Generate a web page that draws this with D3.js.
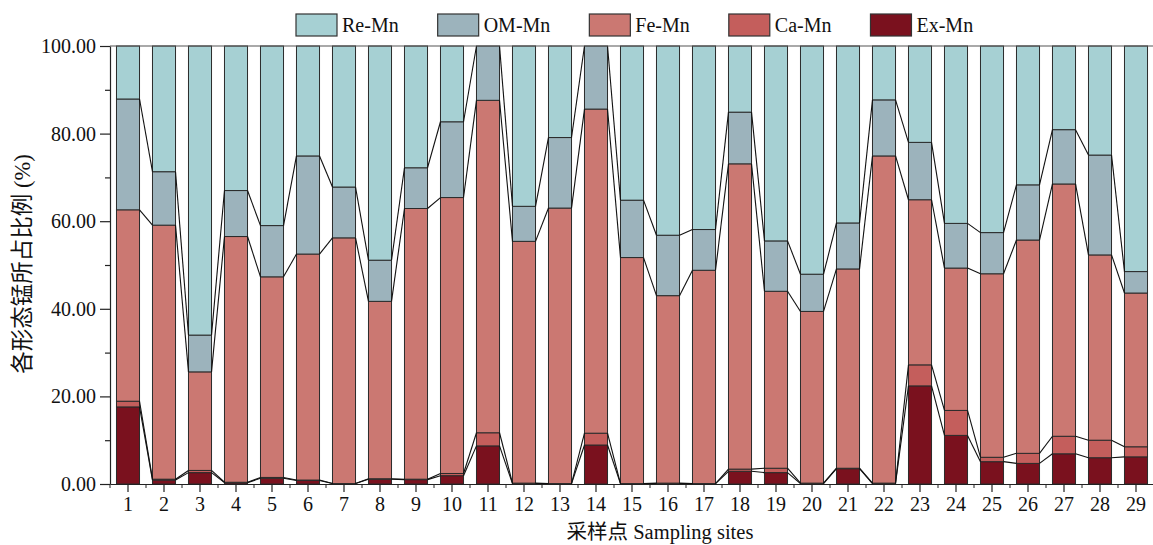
<!DOCTYPE html>
<html><head><meta charset="utf-8">
<script src="https://cdn.jsdelivr.net/npm/d3@7"></script>
<style>body{margin:0;background:#fff}svg{display:block}</style>
</head><body><svg id="c" width="1153" height="545"></svg>
<script>
const sites = ["1","2","3","4","5","6","7","8","9","10","11","12","13","14","15","16","17","18","19","20","21","22","23","24","25","26","27","28","29"];
const exMn = [17.6,0.9,2.6,0.3,1.3,0.8,0.1,1.1,1.0,1.9,8.7,0.1,0.1,8.9,0.1,0.1,0.1,2.9,2.6,0.1,3.5,0.1,22.4,11.1,5.1,4.7,6.9,6.0,6.2];
const caMn = [1.3,0.2,0.5,0.1,0.2,0.1,0.0,0.1,0.1,0.5,3.0,0.1,0.0,2.7,0.0,0.1,0.0,0.5,1.0,0.1,0.1,0.1,4.8,5.7,1.0,2.3,4.0,4.0,2.3];
const feMn = [43.7,58.0,22.5,56.1,45.8,51.6,56.1,40.5,61.8,63.0,75.9,55.2,62.9,74.0,51.6,42.8,48.7,69.7,40.4,39.2,45.5,74.7,37.7,32.5,41.9,48.7,57.6,42.3,35.1];
const omMn = [25.3,12.2,8.4,10.5,11.7,22.4,11.6,9.4,9.3,17.3,12.4,8.0,16.1,14.4,13.1,13.8,9.3,11.8,11.5,8.5,10.5,12.8,13.1,10.2,9.4,12.6,12.4,22.8,4.9];
const reMn = [12.1,28.7,66.0,33.0,41.0,25.1,32.2,48.9,27.8,17.3,0.0,36.6,20.9,0.0,35.2,43.2,41.9,15.1,44.5,52.1,40.4,12.3,22.0,40.5,42.6,31.7,19.1,24.9,51.5];
const seriesNames = ["Ex-Mn","Ca-Mn","Fe-Mn","OM-Mn","Re-Mn"];
const legendOrder = ["Re-Mn","OM-Mn","Fe-Mn","Ca-Mn","Ex-Mn"];
const colors = {"Re-Mn":"#a6d0d3","OM-Mn":"#9cb3bc","Fe-Mn":"#cb7872","Ca-Mn":"#c45e5c","Ex-Mn":"#7a111e"};
const yMajor = [0,20,40,60,80,100];
const yMinor = [10,30,50,70,90];
const yTitle = "各形态锰所占比例 (%)";
const xTitle = "采样点 Sampling sites";

const font = "'Liberation Serif','Times New Roman','Noto Sans CJK SC',serif";
const svg = d3.select("#c");
const m = {l:110, r:1154, t:46, b:484};

const rows = sites.map((s,i)=>({site:s,"Ex-Mn":exMn[i],"Ca-Mn":caMn[i],"Fe-Mn":feMn[i],"OM-Mn":omMn[i],"Re-Mn":reMn[i]}));
const stack = d3.stack().keys(seriesNames)(rows);

const x = d3.scaleBand().domain(sites).range([m.l, m.r]).paddingInner(0.36).paddingOuter(0.18);
const y = d3.scaleLinear().domain([0,100]).range([m.b, m.t]);
const bw = x.bandwidth();

// bars
stack.forEach(layer=>{
  svg.append("g").selectAll("rect").data(layer).join("rect")
    .attr("x", d=>x(d.data.site)).attr("width", bw)
    .attr("y", d=>y(d[1])).attr("height", d=>y(d[0])-y(d[1]))
    .attr("fill", colors[layer.key]).attr("stroke","#2a2a2a").attr("stroke-width",1);
});

// connecting lines
stack.slice(0,4).forEach(layer=>{
  const segs = d3.pairs(layer);
  svg.append("g").selectAll("line").data(segs).join("line")
    .attr("x1", d=>x(d[0].data.site)+bw).attr("y1", d=>y(d[0][1]))
    .attr("x2", d=>x(d[1].data.site)).attr("y2", d=>y(d[1][1]))
    .attr("stroke","#111").attr("stroke-width",1.1);
});

// frame top
svg.append("line").attr("x1",m.l).attr("x2",m.r).attr("y1",y(100)).attr("y2",y(100)).attr("stroke","#555").attr("stroke-width",1.2);

// y axis
svg.append("g").attr("transform",`translate(${m.l},0)`)
  .call(d3.axisLeft(y).tickValues(yMajor).tickFormat(d3.format(".2f")).tickSize(10).tickSizeOuter(0).tickPadding(4));
svg.append("g").attr("transform",`translate(${m.l},0)`)
  .call(d3.axisLeft(y).tickValues(yMinor).tickFormat("").tickSize(5).tickSizeOuter(0))
  .select(".domain").remove();
// x axis
svg.append("g").attr("transform",`translate(0,${m.b})`)
  .call(d3.axisBottom(x).tickSize(8).tickSizeOuter(0).tickPadding(5));
const minorX = sites.map(s=>x(s)+bw/2-x.step()/2);
svg.append("g").selectAll("line").data(minorX).join("line")
  .attr("x1",d=>d).attr("x2",d=>d).attr("y1",m.b).attr("y2",m.b+4).attr("stroke","#222");

svg.selectAll(".tick text").attr("font-family",font).attr("font-size",20).attr("fill","#111");
svg.selectAll(".domain, .tick line").attr("stroke","#222").attr("stroke-width",1.2);

// titles
svg.append("text").attr("transform","translate(30,264) rotate(-90)").attr("text-anchor","middle")
  .attr("font-family",font).attr("font-size",22.5).attr("fill","#111").text(yTitle);
svg.append("text").attr("x",660).attr("y",539).attr("text-anchor","middle")
  .attr("font-family",font).attr("font-size",20.5).attr("fill","#111").text(xTitle);

// legend
const lg = svg.append("g");
let lx = 296;
legendOrder.forEach(k=>{
  const g = lg.append("g").attr("transform",`translate(${lx},14)`);
  g.append("rect").attr("width",41).attr("height",22).attr("fill",colors[k]).attr("stroke","#333").attr("stroke-width",1.2);
  const t = g.append("text").attr("x",46).attr("y",18).attr("font-family",font).attr("font-size",20).attr("fill","#111").text(k);
  lx += 46 + t.node().getComputedTextLength() + 39;
});
</script></body></html>
